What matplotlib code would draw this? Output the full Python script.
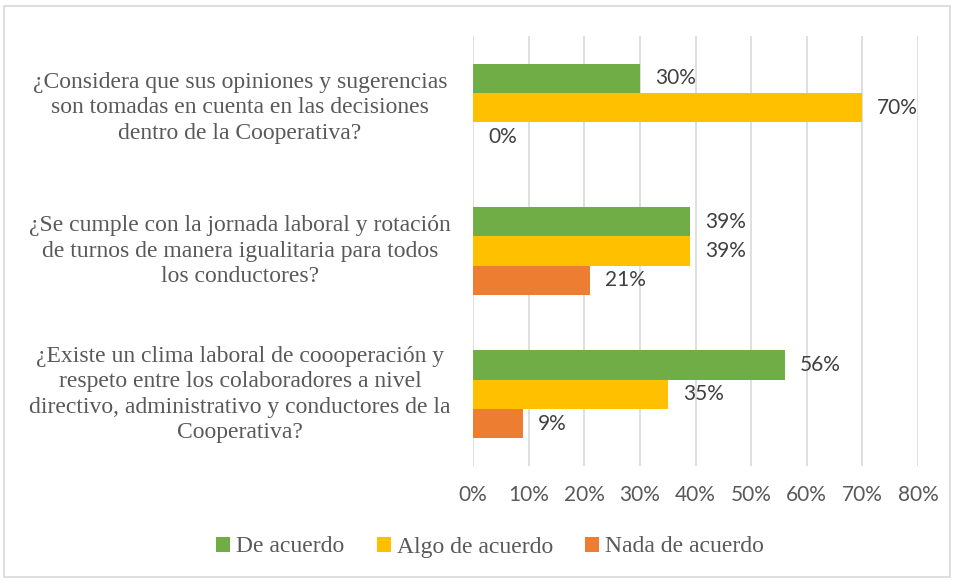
import numpy as np
import matplotlib.pyplot as plt
from matplotlib import transforms
from matplotlib.patches import Rectangle

# data
preguntas = [
    "¿Considera que sus opiniones y sugerencias\nson tomadas en cuenta en las decisiones\ndentro de la Cooperativa?",
    "¿Se cumple con la jornada laboral y rotación\nde turnos de manera igualitaria para todos\nlos conductores?",
    "¿Existe un clima laboral de coooperación y\nrespeto entre los colaboradores a nivel\ndirectivo, administrativo y conductores de la\nCooperativa?",
]
series = ["De acuerdo", "Algo de acuerdo", "Nada de acuerdo"]
de_acuerdo = [30, 39, 56]
algo_de_acuerdo = [70, 39, 35]
nada_de_acuerdo = [0, 21, 9]
ticks = [0, 10, 20, 30, 40, 50, 60, 70, 80]

colores = ["#70AD47", "#FFC000", "#ED7D31"]
serif = "Liberation Serif"
sans = "Lato"

W, H = 954, 581
fig = plt.figure(figsize=(W / 100, H / 100), dpi=100)
fig.patches.append(Rectangle((4 / W, 4 / H), (W - 8) / W, (H - 10) / H,
                             transform=fig.transFigure, fill=False,
                             edgecolor="#D9D9D9", linewidth=1.2))

ax = fig.add_axes([473 / W, (H - 466) / H, (918 - 473) / W, (466 - 36) / H])

y = np.arange(len(preguntas))
h = 0.205
valores = [de_acuerdo, algo_de_acuerdo, nada_de_acuerdo]
for i, (nombre, vals) in enumerate(zip(series, valores)):
    pos = y + (i - 1) * h
    ax.barh(pos, vals, height=h, color=colores[i], label=nombre, zorder=3)
    for p, v in zip(pos, vals):
        ax.annotate(f"{v}%", (v, p), xytext=(15, 0), textcoords="offset pixels",
                    ha="left", va="center", fontsize=15, color="#404040",
                    family=sans)

ax.set_xlim(0, 80)
ax.set_ylim(len(preguntas) - 0.5, -0.5)
ax.set_xticks(ticks)
ax.set_xticklabels([f"{t}%" for t in ticks], fontsize=15, color="#595959",
                   family=sans)
ax.tick_params(axis="x", length=0, pad=14)
ax.set_yticks([])
ax.grid(axis="x", color="#D9D9D9", linewidth=1.2, zorder=0)
for s in ax.spines.values():
    s.set_visible(False)

tr = transforms.blended_transform_factory(fig.transFigure, ax.transData)
for yy, q in zip(y, preguntas):
    ax.text(240 / W, yy, q, transform=tr, ha="center", va="center",
            multialignment="center", fontsize=17, color="#595959",
            family=serif, linespacing=1.28)

leg = fig.legend(loc="center", bbox_to_anchor=(490 / W, 1 - 547 / H), ncol=3,
                 frameon=False, prop={"family": serif, "size": 17},
                 handlelength=0.6, handleheight=0.6, handletextpad=0.25,
                 columnspacing=1.35)
for t in leg.get_texts():
    t.set_color("#595959")

fig.savefig("out.png", dpi=100)
